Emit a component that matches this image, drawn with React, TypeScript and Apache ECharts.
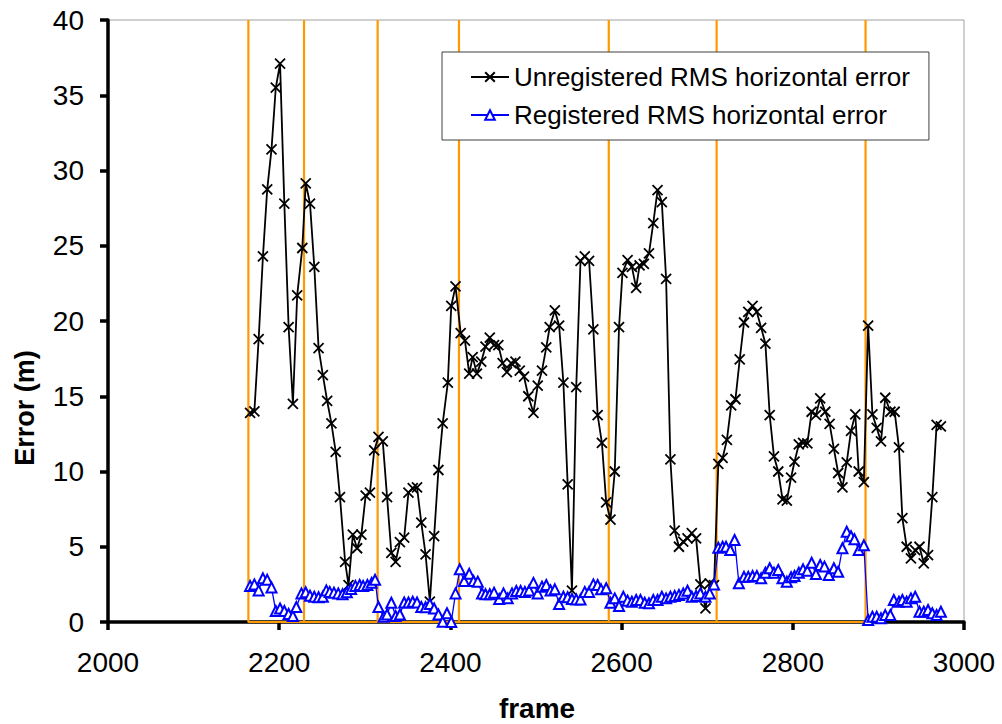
import React, { useEffect, useRef } from "react";
import * as echarts from "echarts";

const unregFrames = [
  2166, 2171, 2176, 2181, 2186, 2191, 2196, 2201, 2206, 2211, 2216, 2221, 2227, 2231, 2236, 2241, 2246, 2251, 2256, 2261,
  2266, 2271, 2277, 2281, 2286, 2291, 2296, 2301, 2306, 2311, 2316, 2321, 2326, 2331, 2336, 2341, 2346, 2351, 2356, 2361,
  2366, 2371, 2376, 2381, 2386, 2391, 2397, 2401, 2406, 2412, 2417, 2422, 2426, 2431, 2436, 2441, 2446, 2451, 2456, 2461,
  2466, 2471, 2476, 2481, 2486, 2491, 2497, 2502, 2507, 2512, 2516, 2522, 2527, 2532, 2537, 2542, 2547, 2552, 2557, 2562,
  2567, 2572, 2577, 2582, 2587, 2592, 2597, 2601, 2607, 2612, 2617, 2621, 2626, 2632, 2637, 2642, 2647, 2652, 2657, 2662,
  2667, 2672, 2677, 2682, 2687, 2692, 2698, 2703, 2708, 2713, 2718, 2723, 2728, 2733, 2738, 2743, 2748, 2753, 2758, 2763,
  2768, 2773, 2778, 2783, 2788, 2793, 2798, 2802, 2807, 2812, 2817, 2822, 2827, 2832, 2838, 2843, 2848, 2853, 2858, 2863,
  2868, 2873, 2877, 2883, 2888, 2893, 2898, 2903, 2908, 2914, 2919, 2924, 2928, 2933, 2938, 2943, 2948, 2953, 2958, 2963,
  2968, 2973,
];
const unregValues = [
  13.9, 14.0, 18.8, 24.3, 28.75, 31.4, 35.5, 37.1, 27.8, 19.6, 14.5, 21.7, 24.85, 29.15, 27.8, 23.6, 18.2, 16.4, 14.7, 13.2,
  11.3, 8.3, 4.0, 2.45, 5.8, 4.9, 5.8, 8.4, 8.6, 11.4, 12.3, 12.0, 8.3, 4.6, 4.0, 5.3, 5.6, 8.6, 8.9, 8.95,
  6.6, 4.5, 1.35, 5.7, 10.1, 13.2, 15.9, 21.0, 22.3, 19.2, 18.7, 16.5, 17.6, 16.5, 17.3, 18.3, 18.9, 18.4, 18.4, 17.2,
  16.6, 17.2, 17.3, 16.7, 16.3, 15.0, 13.9, 15.7, 16.7, 18.25, 19.6, 20.7, 19.7, 15.9, 9.15, 2.08, 15.6, 24.0, 24.3, 24.0,
  19.45, 13.75, 11.9, 7.95, 6.8, 10.0, 19.6, 23.2, 24.05, 23.6, 22.2, 23.7, 23.8, 24.5, 26.5, 28.7, 27.9, 22.8, 10.8, 6.07,
  5.0, 5.34, 5.56, 5.9, 5.56, 2.5, 0.9, 2.57, 2.45, 10.5, 10.9, 12.1, 14.4, 14.8, 17.45, 19.9, 20.6, 21.0, 20.6, 19.55,
  18.5, 13.75, 11.0, 10.0, 8.15, 8.06, 9.6, 10.65, 11.8, 11.9, 11.87, 13.97, 13.75, 14.86, 13.97, 13.16, 11.5, 9.9, 8.95, 10.6,
  12.7, 13.8, 10.0, 9.3, 19.7, 13.8, 12.9, 12.0, 14.9, 13.97, 13.97, 11.6, 6.9, 5.0, 4.23, 4.78, 5.0, 3.9, 4.45, 8.3,
  13.1, 13.0,
];

const regFrames = [
  2166, 2171, 2176, 2181, 2186, 2191, 2196, 2201, 2206, 2211, 2216, 2220, 2226, 2231, 2236, 2241, 2246, 2251, 2255, 2259,
  2264, 2269, 2274, 2279, 2284, 2289, 2294, 2298, 2303, 2308, 2312, 2316, 2322, 2326, 2331, 2336, 2341, 2346, 2351, 2356,
  2361, 2366, 2371, 2376, 2381, 2386, 2391, 2396, 2401, 2406, 2411, 2416, 2422, 2427, 2432, 2437, 2441, 2446, 2451, 2457,
  2462, 2467, 2472, 2477, 2482, 2487, 2492, 2497, 2502, 2507, 2512, 2517, 2522, 2527, 2532, 2537, 2542, 2547, 2552, 2557,
  2562, 2567, 2572, 2576, 2582, 2587, 2592, 2597, 2602, 2607, 2612, 2617, 2622, 2627, 2632, 2637, 2642, 2647, 2652, 2657,
  2662, 2667, 2672, 2677, 2682, 2687, 2692, 2698, 2703, 2708, 2713, 2718, 2722, 2727, 2732, 2737, 2743, 2748, 2753, 2758,
  2763, 2768, 2773, 2778, 2783, 2788, 2793, 2798, 2802, 2807, 2812, 2817, 2822, 2827, 2832, 2837, 2842, 2848, 2853, 2858,
  2863, 2868, 2872, 2877, 2883, 2888, 2893, 2898, 2903, 2908, 2914, 2918, 2924, 2928, 2933, 2938, 2943, 2948, 2953, 2958,
  2963, 2968, 2973,
];
const regValues = [
  2.4, 2.5, 2.1, 2.9, 2.8, 2.3, 0.73, 0.9, 0.73, 0.53, 0.4, 1.0, 1.9, 1.97, 1.75, 1.68, 1.64, 1.68, 2.1, 2.0,
  1.95, 1.9, 1.84, 1.97, 2.2, 2.4, 2.46, 2.4, 2.46, 2.6, 2.8, 1.0, 0.35, 0.5, 1.28, 0.4, 0.5, 1.3, 1.3, 1.35,
  1.3, 1.0, 0.98, 1.2, 0.9, 0.5, 0.02, 0.58, 0.0, 1.9, 3.5, 2.72, 3.2, 2.72, 2.68, 1.9, 1.84, 1.84, 1.95, 1.53,
  1.9, 1.57, 1.9, 2.06, 2.06, 2.0, 2.1, 2.6, 1.9, 2.35, 2.46, 2.1, 2.17, 1.2, 1.68, 1.64, 1.53, 1.5, 1.5, 2.0,
  2.0, 2.5, 2.46, 2.17, 2.24, 1.28, 1.57, 1.06, 1.68, 1.42, 1.35, 1.46, 1.46, 1.28, 1.24, 1.46, 1.46, 1.68, 1.57, 1.68,
  1.73, 1.8, 1.9, 2.08, 1.68, 1.73, 1.9, 1.68, 1.9, 2.5, 4.94, 5.0, 5.0, 4.78, 5.45, 2.57, 3.0, 3.0, 3.06, 3.06,
  2.9, 3.28, 3.57, 3.28, 3.46, 2.9, 2.68, 2.97, 3.06, 3.28, 3.5, 3.4, 3.94, 3.19, 3.79, 3.68, 3.12, 3.57, 3.34, 4.9,
  6.0, 5.7, 5.5, 4.78, 5.1, 0.13, 0.35, 0.35, 0.25, 0.46, 0.46, 1.46, 1.35, 1.46, 1.35, 1.57, 1.68, 0.68, 0.68, 0.8,
  0.58, 0.46, 0.68,
];

const boundaryFrames = [2164, 2229, 2315, 2410, 2585, 2711, 2885];
const boundaryTop = 40;

const FONT = 'Arial, "Liberation Sans", Helvetica, sans-serif';
const CROSS = "path://M0,0L10,10M10,0L0,10";

export default function App() {
  const ref = useRef<HTMLDivElement>(null);
  useEffect(() => {
    if (!ref.current) return;
    const chart = echarts.init(ref.current, null, { renderer: "svg" });

    const boundaryData: number[][] = [];
    boundaryFrames.forEach((f, i) => {
      if (i > 0) boundaryData.push([f, 0]);
      boundaryData.push([f, 0], [f, boundaryTop], [f, 0]);
    });

    chart.setOption({
      animation: false,
      backgroundColor: "#fff",
      grid: {
        left: 108,
        right: 38,
        top: 20,
        bottom: 102,
        show: true,
        borderColor: "#a0a0a0",
        borderWidth: 1,
        backgroundColor: "transparent",
      },
      legend: {
        orient: "vertical",
        left: 442,
        top: 52,
        data: ["Unregistered RMS horizontal error", "Registered RMS horizontal error"],
        backgroundColor: "#fff",
        borderColor: "#404040",
        borderWidth: 1,
        padding: [12, 19, 12, 28],
        itemGap: 12,
        itemWidth: 38,
        itemHeight: 12,
        textStyle: { fontSize: 26, fontFamily: FONT, color: "#000" },
      },
      xAxis: {
        type: "value",
        min: 2000,
        max: 3000,
        interval: 200,
        axisLine: { show: true, onZero: false, lineStyle: { color: "#000", width: 3.5 } },
        axisTick: { show: true, length: 8, lineStyle: { color: "#000", width: 3.5 } },
        axisLabel: {
          fontSize: 28,
          fontFamily: FONT,
          color: "#000",
          margin: 26,
          formatter: (v: number) => String(v),
        },
        splitLine: { show: false },
      },
      yAxis: {
        type: "value",
        min: 0,
        max: 40,
        interval: 5,
        axisLine: { show: true, onZero: false, lineStyle: { color: "#000", width: 3.5 } },
        axisTick: { show: true, length: 8, lineStyle: { color: "#000", width: 3.5 } },
        axisLabel: {
          fontSize: 28,
          fontFamily: FONT,
          color: "#000",
          margin: 24,
          formatter: (v: number) => String(v),
        },
        splitLine: { show: false },
      },
      graphic: [
        {
          type: "text",
          x: 25,
          y: 408,
          rotation: Math.PI / 2,
          style: {
            text: "Error (m)",
            font: `bold 27px ${FONT}`,
            fill: "#000",
            textAlign: "center",
            textVerticalAlign: "middle",
          },
        },
        {
          type: "text",
          x: 537,
          y: 708,
          style: {
            text: "frame",
            font: `bold 28px ${FONT}`,
            fill: "#000",
            textAlign: "center",
            textVerticalAlign: "middle",
          },
        },
      ],
      series: [
        {
          name: "segments",
          type: "line",
          data: boundaryData,
          showSymbol: false,
          symbol: "none",
          lineStyle: { color: "#FF9900", width: 2.2 },
          silent: true,
          z: 1,
        },
        {
          name: "Unregistered RMS horizontal error",
          type: "line",
          data: unregFrames.map((f, i) => [f, unregValues[i]]),
          symbol: CROSS,
          symbolSize: 10,
          showAllSymbol: true,
          lineStyle: { color: "#000", width: 1.8 },
          itemStyle: { color: "#000", borderColor: "#000", borderWidth: 1.8 },
          z: 3,
        },
        {
          name: "Registered RMS horizontal error",
          type: "line",
          data: regFrames.map((f, i) => [f, regValues[i]]),
          symbol: "emptyTriangle",
          symbolSize: 10,
          showAllSymbol: true,
          lineStyle: { color: "#0000FF", width: 1.3 },
          itemStyle: { color: "#0000FF", borderColor: "#0000FF", borderWidth: 1.5 },
          z: 4,
        },
      ],
    });
    return () => chart.dispose();
  }, []);
  return <div ref={ref} style={{ width: 1002, height: 724, position: "absolute", left: 0, top: 0 }} />;
}
